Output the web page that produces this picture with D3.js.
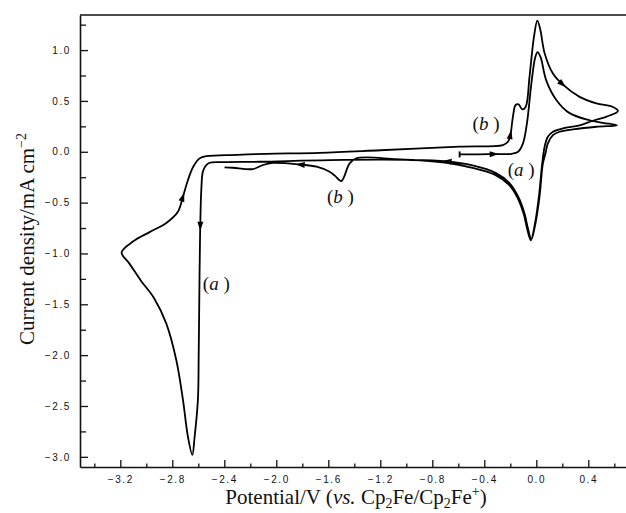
<!DOCTYPE html>
<html>
<head>
<meta charset="utf-8">
<script src="https://cdn.jsdelivr.net/npm/d3@7/dist/d3.min.js"></script>
<style>
  html, body { margin: 0; padding: 0; background: #fff; }
  svg { display: block; }
  .tick text { font-family: "Liberation Sans", Arial, sans-serif; font-size: 10px; letter-spacing: 1.6px; fill: #111; }
  .title { font-family: "Liberation Serif", "Times New Roman", serif; font-size: 21px; fill: #111; }
  .note { font-family: "Liberation Serif", "Times New Roman", serif; font-size: 19px; fill: #111; }
</style>
</head>
<body>
<svg id="chart" width="626" height="513"></svg>
<script>
// Axis ticks
const xMajor = [-3.2, -2.8, -2.4, -2.0, -1.6, -1.2, -0.8, -0.4, 0.0, 0.4];
const xMinor = [-3.4, -3.0, -2.6, -2.2, -1.8, -1.4, -1.0, -0.6, -0.2, 0.2, 0.6];
const yMajor = [1.0, 0.5, 0.0, -0.5, -1.0, -1.5, -2.0, -2.5, -3.0];
const yMinor = [1.25, 0.75, 0.25, -0.25, -0.75, -1.25, -1.75, -2.25, -2.75];

// Potential (V), current density (mA cm-2): first cycle from -0.6 V out to -3.2 V
const firstSweep = [
  [-0.59, -0.026], [-0.45, -0.025], [-0.32, -0.023], [-0.19, -0.02], [-0.14, 0.0],
  [-0.103, 0.08], [-0.072, 0.28], [-0.038, 0.67], [-0.008, 0.93], [0.01, 0.98],
  [0.033, 0.93], [0.077, 0.70], [0.154, 0.51], [0.256, 0.38], [0.41, 0.31],
  [0.512, 0.285], [0.62, 0.26], [0.462, 0.246], [0.282, 0.22], [0.179, 0.197],
  [0.128, 0.164], [0.089, 0.083], [0.07, -0.02], [0.05, -0.12], [0.025, -0.44],
  [-0.012, -0.74], [-0.038, -0.86], [-0.065, -0.75], [-0.09, -0.61], [-0.14, -0.44],
  [-0.205, -0.31], [-0.31, -0.21], [-0.49, -0.135], [-0.69, -0.095], [-1.0, -0.08],
  [-1.59, -0.082], [-2.13, -0.098], [-2.40, -0.102], [-2.513, -0.108], [-2.544, -0.14],
  [-2.565, -0.197], [-2.577, -0.377], [-2.585, -0.737], [-2.59, -1.16], [-2.597, -2.0],
  [-2.603, -2.44], [-2.628, -2.80], [-2.646, -2.98], [-2.68, -2.80], [-2.718, -2.44],
  [-2.769, -2.05], [-2.846, -1.69], [-2.94, -1.44], [-3.04, -1.27], [-3.13, -1.10],
  [-3.19, -0.99]
];

// Return from -3.2 V, second anodic/cathodic sweep, ends near -2.4 V
const returnSweep = [
  [-3.19, -0.99], [-3.10, -0.88], [-2.975, -0.79], [-2.846, -0.70],
  [-2.757, -0.59], [-2.718, -0.44], [-2.68, -0.28], [-2.64, -0.15], [-2.59, -0.065],
  [-2.538, -0.042], [-2.30, -0.03], [-2.077, -0.02], [-1.667, -0.01], [-1.2, 0.015],
  [-0.59, 0.05], [-0.257, 0.066], [-0.218, 0.098], [-0.198, 0.174], [-0.18, 0.344],
  [-0.159, 0.46], [-0.136, 0.466], [-0.108, 0.417], [-0.082, 0.44], [-0.052, 0.74],
  [-0.018, 1.13], [0.008, 1.29], [0.031, 1.20], [0.064, 0.97], [0.128, 0.77],
  [0.205, 0.66], [0.333, 0.54], [0.462, 0.476], [0.589, 0.44], [0.628, 0.40],
  [0.538, 0.344], [0.435, 0.305], [0.333, 0.26], [0.205, 0.23], [0.128, 0.197],
  [0.089, 0.147], [0.064, 0.05], [0.045, -0.12], [0.02, -0.44], [-0.015, -0.74],
  [-0.042, -0.87], [-0.07, -0.76], [-0.095, -0.62], [-0.145, -0.45], [-0.21, -0.325],
  [-0.32, -0.225], [-0.5, -0.155], [-0.69, -0.108], [-1.077, -0.072], [-1.385, -0.065],
  [-1.436, -0.114], [-1.50, -0.288], [-1.55, -0.235], [-1.59, -0.197], [-1.69, -0.147],
  [-1.82, -0.125], [-2.026, -0.11], [-2.103, -0.13], [-2.18, -0.17], [-2.334, -0.157],
  [-2.398, -0.153]
];

// Sweep direction arrows (placed on the curve)
const arrowPoints = [
  [-0.32, -0.023], [0.205, 0.66], [-0.69, -0.095], [-2.585, -0.737],
  [-2.718, -0.44], [-1.82, -0.125], [-0.198, 0.174]
];

// Peak labels
const labelText = ['b', 'a', 'b', 'a'];
const labelPos = [[-0.49, 0.21], [-0.22, -0.24], [-1.61, -0.50], [-2.565, -1.36]];

const svg = d3.select('#chart');

const x = d3.scaleLinear().domain([-3.51, 0.69]).range([80, 626]);
const y = d3.scaleLinear().domain([-3.1, 1.345]).range([467, 15]);
const fmt = d3.format('.1f');

// Axes (ticks point inward)
svg.append('g').attr('transform', `translate(0,${y(-3.1)})`)
  .call(d3.axisBottom(x).tickValues(xMajor).tickFormat(fmt).tickSizeInner(-7).tickSizeOuter(0).tickPadding(9));
svg.append('g').attr('transform', `translate(0,${y(-3.1)})`)
  .call(d3.axisBottom(x).tickValues(xMinor).tickFormat('').tickSizeInner(-3.5).tickSizeOuter(0))
  .select('.domain').remove();

svg.append('g').attr('transform', `translate(${x(-3.51)},0)`)
  .call(d3.axisLeft(y).tickValues(yMajor).tickFormat(fmt).tickSizeInner(-8).tickSizeOuter(0).tickPadding(9));
svg.append('g').attr('transform', `translate(${x(-3.51)},0)`)
  .call(d3.axisLeft(y).tickValues(yMinor).tickFormat('').tickSizeInner(-6).tickSizeOuter(0))
  .select('.domain').remove();

svg.selectAll('.domain').attr('stroke', '#111').attr('stroke-width', 1.6);
svg.selectAll('.tick line').attr('stroke', '#111').attr('stroke-width', 1.3);

// Top frame line
svg.append('line')
  .attr('x1', x(-3.51)).attr('x2', x(0.69))
  .attr('y1', y(1.345)).attr('y2', y(1.345))
  .attr('stroke', '#111').attr('stroke-width', 1.6);

// Voltammogram
const pathData = firstSweep.concat(returnSweep.slice(1));
const line = d3.line()
  .x((d) => x(d[0]))
  .y((d) => y(d[1]))
  .curve(d3.curveCatmullRom.alpha(0.5));

svg.append('path')
  .datum(pathData)
  .attr('d', line)
  .attr('fill', 'none')
  .attr('stroke', '#000')
  .attr('stroke-width', 1.8)
  .attr('stroke-linejoin', 'round');

// Start marker
const start = firstSweep[0];
svg.append('line')
  .attr('x1', x(start[0])).attr('x2', x(start[0]))
  .attr('y1', y(start[1]) - 3).attr('y2', y(start[1]) + 3)
  .attr('stroke', '#000').attr('stroke-width', 1.8);

// Arrows: direction from neighbouring vertices on the path
const screenPts = pathData.map((d) => [x(d[0]), y(d[1])]);
arrowPoints.forEach((a) => {
  const px = x(a[0]);
  const py = y(a[1]);
  let best = 1;
  let bestDist = Infinity;
  for (let i = 1; i < screenPts.length - 1; i++) {
    const dd = (screenPts[i][0] - px) ** 2 + (screenPts[i][1] - py) ** 2;
    if (dd < bestDist) {
      bestDist = dd;
      best = i;
    }
  }
  const p0 = screenPts[best - 1];
  const p1 = screenPts[best + 1];
  const angle = Math.atan2(p1[1] - p0[1], p1[0] - p0[0]) * 180 / Math.PI;
  svg.append('path')
    .attr('d', 'M4,0L-5,-3L-5,3Z')
    .attr('fill', '#000')
    .attr('transform', `translate(${px},${py}) rotate(${angle})`);
});

// Peak labels
labelText.forEach((t, i) => {
  const txt = svg.append('text')
    .attr('class', 'note')
    .attr('x', x(labelPos[i][0]))
    .attr('y', y(labelPos[i][1]));
  txt.append('tspan').text('(');
  txt.append('tspan').attr('font-style', 'italic').text(t);
  txt.append('tspan').text(' )');
});

// X title
const xt = svg.append('text')
  .attr('class', 'title')
  .attr('x', 356)
  .attr('y', 504)
  .attr('text-anchor', 'middle');
xt.append('tspan').text('Potential/V (');
xt.append('tspan').attr('font-style', 'italic').text('vs.');
xt.append('tspan').text(' Cp');
xt.append('tspan').attr('font-size', '14px').attr('dy', 3.5).text('2');
xt.append('tspan').attr('dy', -3.5).text('Fe/Cp');
xt.append('tspan').attr('font-size', '14px').attr('dy', 3.5).text('2');
xt.append('tspan').attr('dy', -3.5).text('Fe');
xt.append('tspan').attr('font-size', '14px').attr('dy', -8).text('+');
xt.append('tspan').attr('dy', 8).text(')');

// Y title
const yt = svg.append('text')
  .attr('class', 'title')
  .attr('transform', 'translate(33.5,239) rotate(-90)')
  .attr('text-anchor', 'middle');
yt.append('tspan').text('Current density/mA cm');
yt.append('tspan').attr('font-size', '14px').attr('dy', -8).text('\u22122');
</script>
</body>
</html>
